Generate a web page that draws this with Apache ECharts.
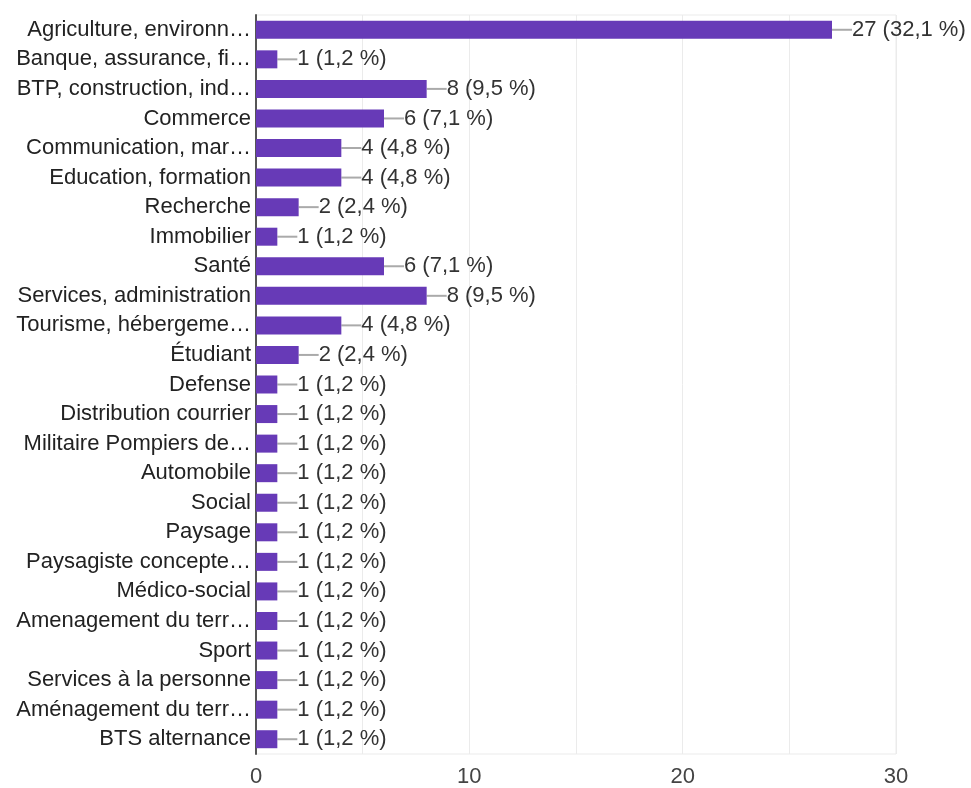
<!DOCTYPE html>
<html>
<head>
<meta charset="utf-8">
<script src="https://cdn.jsdelivr.net/npm/echarts@6/dist/echarts.min.js"></script>
<style>
html,body{margin:0;padding:0;background:#fff;}
#chart{width:971px;height:788px;}
</style>
</head>
<body>
<div id="chart"></div>
<script>
const categories = [
  "Agriculture, environn…",
  "Banque, assurance, fi…",
  "BTP, construction, ind…",
  "Commerce",
  "Communication, mar…",
  "Education, formation",
  "Recherche",
  "Immobilier",
  "Santé",
  "Services, administration",
  "Tourisme, hébergeme…",
  "Étudiant",
  "Defense",
  "Distribution courrier",
  "Militaire Pompiers de…",
  "Automobile",
  "Social",
  "Paysage",
  "Paysagiste concepte…",
  "Médico-social",
  "Amenagement du terr…",
  "Sport",
  "Services à la personne",
  "Aménagement du terr…",
  "BTS alternance"
];
const counts = [27, 1, 8, 6, 4, 4, 2, 1, 6, 8, 4, 2, 1, 1, 1, 1, 1, 1, 1, 1, 1, 1, 1, 1, 1];
const percents = ["32,1", "1,2", "9,5", "7,1", "4,8", "4,8", "2,4", "1,2", "7,1", "9,5", "4,8", "2,4",
  "1,2", "1,2", "1,2", "1,2", "1,2", "1,2", "1,2", "1,2", "1,2", "1,2", "1,2", "1,2", "1,2"];
const xTickLabels = [0, 10, 20, 30];

const FONT = "'Liberation Sans', Arial, sans-serif";
const chart = echarts.init(document.getElementById('chart'), null, {renderer: 'canvas'});
chart.setOption({
  backgroundColor: '#fff',
  animation: false,
  grid: {left: 256, right: 75, top: 15, bottom: 33, show: true, borderColor: '#ebebeb', borderWidth: 1, containLabel: false},
  xAxis: {
    type: 'value', min: 0, max: 30, interval: 5,
    axisLine: {show: false},
    axisTick: {show: false},
    splitLine: {show: true, lineStyle: {color: '#ebebeb', width: 1}},
    axisLabel: {
      fontFamily: FONT, fontSize: 22, color: '#444', margin: 12,
      formatter: v => xTickLabels.includes(v) ? String(v) : ''
    }
  },
  yAxis: {
    type: 'category', data: categories, inverse: true,
    axisLine: {show: true, lineStyle: {color: '#555', width: 2}},
    axisTick: {show: false},
    axisLabel: {fontFamily: FONT, fontSize: 22, color: '#222', margin: 5}
  },
  series: [{
    type: 'bar',
    data: counts,
    barWidth: 18,
    itemStyle: {color: '#673ab7'},
    label: {
      show: true, position: 'right', distance: 0,
      fontFamily: FONT, fontSize: 22, color: '#333',
      formatter: p => counts[p.dataIndex] + ' (' + percents[p.dataIndex] + ' %)'
    },
    labelLayout: {dx: 20},
    labelLine: {show: true, lineStyle: {color: '#aaa', width: 2}}
  }]
});
</script>
</body>
</html>
